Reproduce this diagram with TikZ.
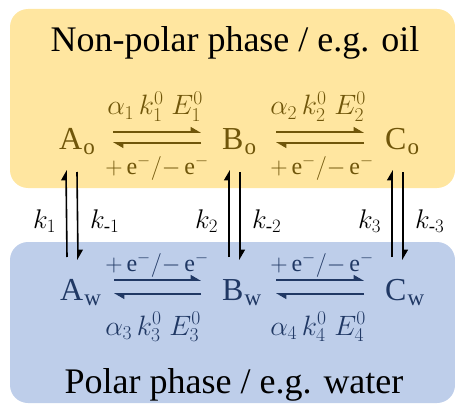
\RequirePackage{fix-cm}
\documentclass[tikz,border=0pt]{standalone}
\usepackage{amsmath,amssymb}
\usepackage{fontspec}
\setmainfont{Liberation Serif}
\usetikzlibrary{arrows.meta}

\definecolor{oilfill}{RGB}{255,230,160}
\definecolor{waterfill}{RGB}{190,206,234}
\definecolor{oiltext}{RGB}{112,86,10}
\definecolor{watertext}{RGB}{32,56,100}

\newcommand{\phsub}[1]{\hspace{1pt}\raisebox{-5pt}{\fontsize{23}{25}\selectfont #1}}

\begin{document}
\begin{tikzpicture}[x=1pt,y=1pt]
        \tikzstyle{phase}=[rounded corners=18pt]
        \tikzstyle{title}=[anchor=base, inner sep=0pt, font=\fontsize{36}{40}\selectfont]
        \tikzstyle{species}=[anchor=base west, inner sep=0pt, font=\fontsize{32}{34}\selectfont]
        \tikzstyle{rate}=[anchor=base, inner sep=0pt, font=\fontsize{28}{30}\selectfont]
        \tikzstyle{echarge}=[anchor=base, inner sep=0pt, font=\fontsize{24}{26}\selectfont]
        \tikzstyle{kconst}=[anchor=base west, inner sep=0pt, font=\fontsize{27}{30}\selectfont]
        \tikzstyle{harpoon}=[line width=1.6pt, -{Triangle[left,length=9pt,width=10pt]}]

            \useasboundingbox (0,0) rectangle (455,405);

            % the two phases
            \fill[oilfill, phase] (10,217) rectangle (455,396);
            \fill[waterfill, phase] (10,2) rectangle (455,163);

            \node[title](oil) at (235,353) {Non-polar phase / e.g. oil};
            \node[title](water) at (234,12) {Polar phase / e.g. water};

            \node[species, text=oiltext](Ao) at (59,255) {A\phsub{o}};
            \node[species, text=oiltext](Bo) at (222,255) {B\phsub{o}};
            \node[species, text=oiltext](Co) at (385,255) {C\phsub{o}};

            \node[species, text=watertext](Aw) at (60,105) {A\phsub{w}};
            \node[species, text=watertext](Bw) at (222,105) {B\phsub{w}};
            \node[species, text=watertext](Cw) at (385,105) {C\phsub{w}};

            % electron transfer
            \node[rate, text=oiltext](r1) at (155,290) {$\alpha_1\,k_1^0\;E_1^0$};
            \node[rate, text=oiltext](r2) at (318,290) {$\alpha_2\,k_2^0\;E_2^0$};
            \node[echarge, text=oiltext](e1) at (157,231) {${+}\,\mathrm{e}^-/{-}\,\mathrm{e}^-$};
            \node[echarge, text=oiltext](e2) at (322,231) {${+}\,\mathrm{e}^-/{-}\,\mathrm{e}^-$};

            \node[echarge, text=watertext](e3) at (157,134) {${+}\,\mathrm{e}^-/{-}\,\mathrm{e}^-$};
            \node[echarge, text=watertext](e4) at (322,134) {${+}\,\mathrm{e}^-/{-}\,\mathrm{e}^-$};
            \node[rate, text=watertext](r3) at (153,70) {$\alpha_3\,k_3^0\;E_3^0$};
            \node[rate, text=watertext](r4) at (318,70) {$\alpha_4\,k_4^0\;E_4^0$};

            \foreach \from/\to in {Ao/Bo,Bo/Co}
            {
            \draw[harpoon, oiltext] ([xshift=54pt,yshift=18pt]\from.base west) -- ([xshift=-21pt,yshift=18pt]\to.base west);
            \draw[harpoon, oiltext] ([xshift=-21pt,yshift=7pt]\to.base west) -- ([xshift=54pt,yshift=7pt]\from.base west);
            }

            \foreach \from/\to in {Aw/Bw,Bw/Cw}
            {
            \draw[harpoon, watertext] ([xshift=54pt,yshift=20pt]\from.base west) -- ([xshift=-21pt,yshift=20pt]\to.base west);
            \draw[harpoon, watertext] ([xshift=-21pt,yshift=6pt]\to.base west) -- ([xshift=54pt,yshift=6pt]\from.base west);
            }

            % transfer across the interface
            \foreach \from/\to in {Aw/Ao,Bw/Bo,Cw/Co}
            {
            \draw[harpoon] ([xshift=7pt,yshift=43pt]\from.base west) -- ([xshift=7pt,yshift=-20pt]\to.base west);
            \draw[harpoon] ([xshift=18pt,yshift=-22pt]\to.base west) -- ([xshift=18pt,yshift=40pt]\from.base west);
            }

            \node[kconst](k1) at (33,177) {$k_1$};
            \node[kconst](km1) at (90,177) {$k_{\textrm{-}1}$};
            \node[kconst](k2) at (195,177) {$k_2$};
            \node[kconst](km2) at (252,177) {$k_{\textrm{-}2}$};
            \node[kconst](k3) at (358,177) {$k_3$};
            \node[kconst](km3) at (415,177) {$k_{\textrm{-}3}$};

        \end{tikzpicture}
\end{document}
